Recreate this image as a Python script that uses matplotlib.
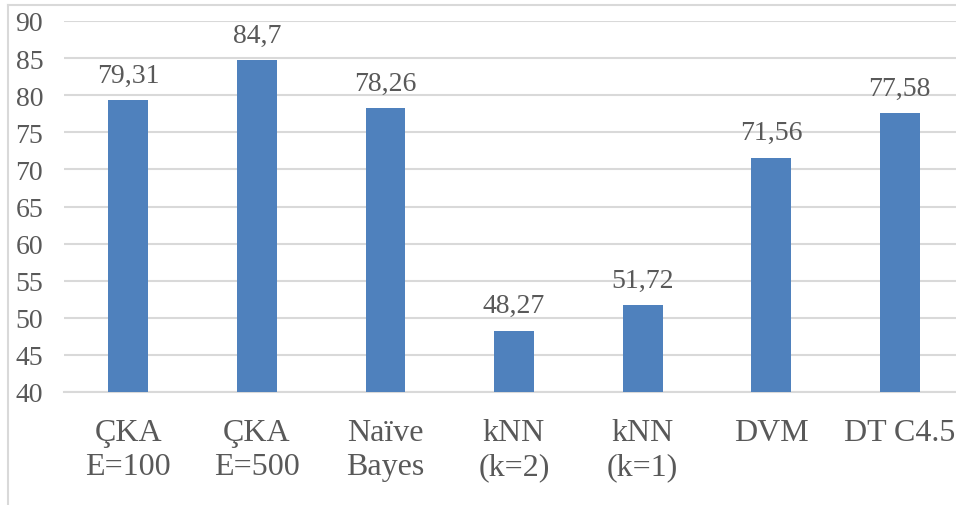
import matplotlib.pyplot as plt
from matplotlib.lines import Line2D

# Başarım oranları (%) - sınıflandırıcılar
kategoriler = ["ÇKA\nE=100", "ÇKA\nE=500", "Naïve\nBayes", "kNN\n(k=2)", "kNN\n(k=1)", "DVM", "DT C4.5"]
degerler = [79.31, 84.7, 78.26, 48.27, 51.72, 71.56, 77.58]
y_ticks = list(range(40, 91, 5))

plt.rcParams['font.family'] = ['Liberation Serif', 'DejaVu Serif']
gri = '#595959'

fig = plt.figure(figsize=(9.56, 5.06), dpi=100)
ax = fig.add_axes([64/956, 1 - 393/506, 900/956, (393 - 22)/506])

x = range(len(kategoriler))
ax.bar(x, degerler, width=0.31, color='#4F81BD', zorder=3, bottom=0)

for i, v in enumerate(degerler):
    etiket = f"{v:g}".replace('.', ',')
    ax.annotate(etiket, (i, v), xytext=(0, 9), textcoords='offset points',
                ha='center', va='bottom', fontsize=20, color=gri)

ax.set_ylim(40, 90)
ax.set_xlim(-0.5, len(kategoriler) - 0.5)
ax.set_yticks(y_ticks)
ax.set_xticks(list(x))
ax.set_xticklabels(kategoriler, fontsize=23, color=gri, linespacing=1.2)
ax.tick_params(axis='y', labelsize=20, labelcolor=gri, length=0, pad=15)
ax.tick_params(axis='x', length=0, pad=19)
ax.grid(axis='y', color='#D9D9D9', linewidth=1.5, zorder=0)
for s in ['top', 'right', 'left']:
    ax.spines[s].set_visible(False)
ax.spines['bottom'].set_color('#D9D9D9')
ax.spines['bottom'].set_linewidth(1.5)

# çerçeve (sol ve üst kenar)
fig.add_artist(Line2D([8/956, 8/956], [0, 1 - 6/506], color='#D9D9D9', lw=1.5))
fig.add_artist(Line2D([8/956, 1], [1 - 6/506, 1 - 6/506], color='#D9D9D9', lw=1.5))

fig.savefig('out.png', dpi=100)
